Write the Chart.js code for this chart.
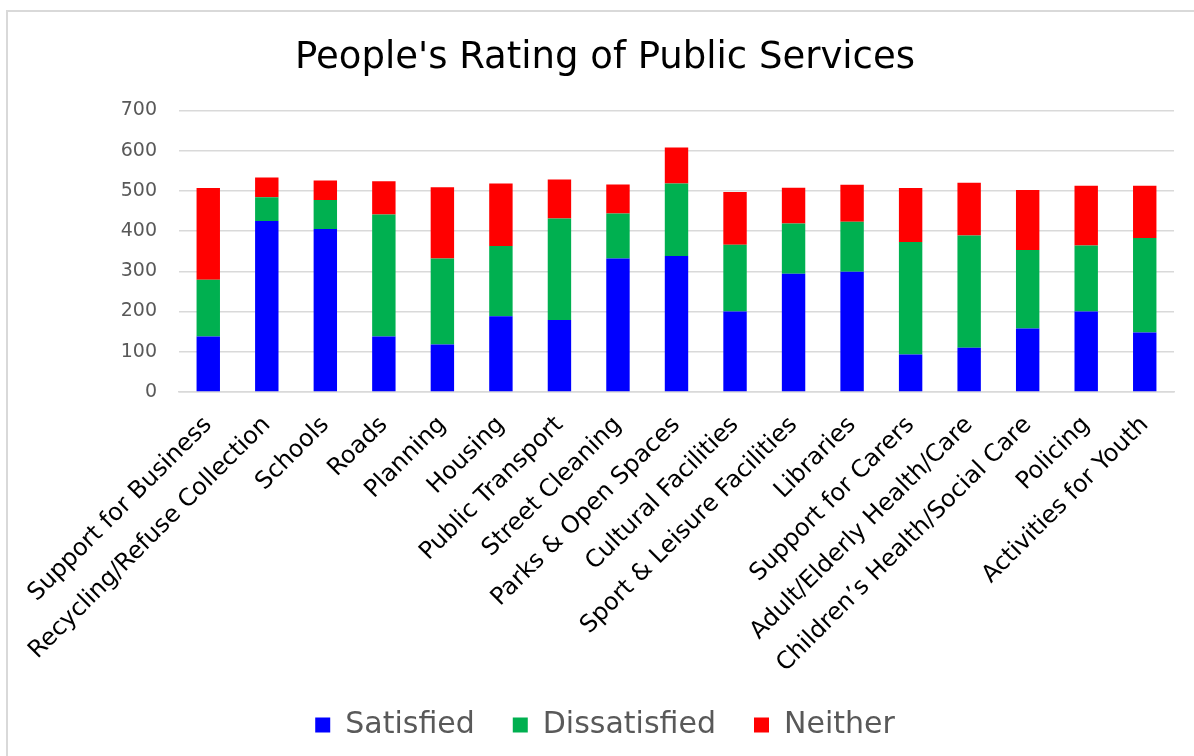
<!DOCTYPE html>
<html>
<head>
<meta charset="utf-8">
<script src="https://cdn.jsdelivr.net/npm/chart.js@4/dist/chart.umd.min.js"></script>
<style>
  body { margin: 0; background: #fff; }
  #frame {
    position: absolute; left: 6px; top: 10px; width: 1200px; height: 760px;
    border: 2px solid #d9d9d9; box-sizing: border-box;
  }
  #wrap { position: absolute; left: 0; top: 0; width: 1194px; height: 756px; }
</style>
</head>
<body>
<div id="frame"></div>
<div id="wrap"><canvas id="chart" width="1194" height="756"></canvas></div>
<script>
// services surveyed
var services = [
  "Support for Business", "Recycling/Refuse Collection", "Schools", "Roads",
  "Planning", "Housing", "Public Transport", "Street Cleaning",
  "Parks & Open Spaces", "Cultural Facilities", "Sport & Leisure Facilities",
  "Libraries", "Support for Carers", "Adult/Elderly Health/Care",
  "Children\u2019s Health/Social Care", "Policing", "Activities for Youth"
];

// number of people per answer
var satisfied    = [138, 425, 405, 138, 118, 188, 179, 332, 338, 200, 294, 299,  93, 110, 158, 200, 148];
var dissatisfied = [141,  59,  72, 303, 214, 175, 252, 112, 180, 166, 125, 124, 280, 279, 195, 164, 235];
var neither      = [228,  49,  49,  83, 177, 155,  97,  72,  90, 131,  89,  92, 134, 131, 149, 149, 130];

var yTicks = [0, 100, 200, 300, 400, 500, 600, 700];

function makeSet(label, data, color){
    return {
        label: label,
        data: data,
        backgroundColor: color,
        borderWidth: 0,
        categoryPercentage: 1.0,
        barPercentage: 0.4
    };
}

var ctx = document.getElementById("chart");
var chart = new Chart(ctx, {
    type: "bar",
    data: {
        labels: services,
        datasets: [
            makeSet("Satisfied", satisfied, "#0000ff"),
            makeSet("Dissatisfied", dissatisfied, "#00b050"),
            makeSet("Neither", neither, "#ff0000")
        ]
    },
    options: {
        responsive: false,
        animation: false,
        layout: { padding: { left: 36, right: 20, top: 0, bottom: 6 } },
        plugins: {
            tooltip: { enabled: false },
            title: {
                display: true,
                text: "People's Rating of Public Services",
                color: "#000",
                font: { family: "DejaVu Sans", size: 37, weight: "normal" },
                padding: { top: 36, bottom: 30 }
            },
            legend: {
                position: "bottom",
                labels: {
                    color: "#595959",
                    font: { family: "DejaVu Sans", size: 30 },
                    boxWidth: 15,
                    boxHeight: 15,
                    padding: 38
                }
            }
        },
        scales: {
            x: {
                stacked: true,
                afterFit: function(axis){ axis.height = 280; },
                grid: { display: false, drawTicks: false },
                border: { color: "#d9d9d9", width: 1.5 },
                ticks: {
                    color: "#000",
                    font: { family: "DejaVu Sans", size: 24 },
                    minRotation: 45,
                    maxRotation: 45,
                    autoSkip: false,
                    padding: 19
                }
            },
            y: {
                stacked: true,
                min: 0,
                max: 700,
                afterBuildTicks: function(axis){
                    axis.ticks = yTicks.map(function(v){ return { value: v }; });
                },
                afterFit: function(axis){ axis.width = 143; },
                grid: { color: "#d9d9d9", lineWidth: 1.5, drawTicks: false },
                border: { display: false },
                ticks: {
                    color: "#595959",
                    font: { family: "DejaVu Sans", size: 19 },
                    padding: 22
                }
            }
        }
    }
});
</script>
</body>
</html>
